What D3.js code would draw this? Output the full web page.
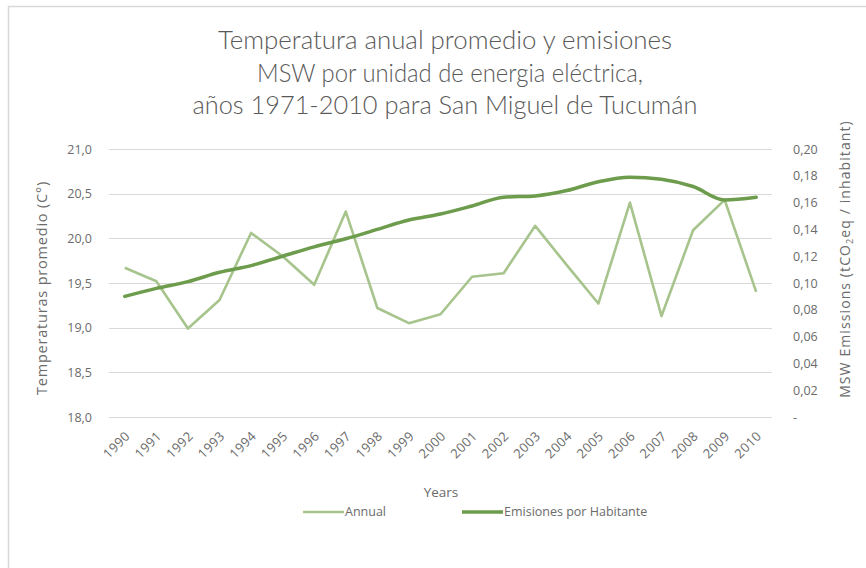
<!DOCTYPE html>
<html><head><meta charset="utf-8">
<script src="https://cdn.jsdelivr.net/npm/d3@7/dist/d3.min.js"></script>
<style>
body{margin:0;background:#fff;}
svg{display:block;}
text{font-family:"Open Sans",sans-serif;fill:#6b6b6b;}
</style></head><body>
<svg id="chart" width="866" height="568"></svg>
<script>
const years = ["1990","1991","1992","1993","1994","1995","1996","1997","1998","1999","2000","2001","2002","2003","2004","2005","2006","2007","2008","2009","2010"];
const annual = [19.67,19.52,18.99,19.31,20.06,19.80,19.48,20.30,19.22,19.05,19.15,19.57,19.61,20.14,19.70,19.27,20.40,19.13,20.09,20.43,19.40];
const emisiones = [0.090,0.096,0.101,0.108,0.113,0.120,0.127,0.133,0.140,0.147,0.1515,0.1575,0.164,0.165,0.169,0.1756,0.179,0.1774,0.172,0.162,0.164];
const leftTicks = [18.0,18.5,19.0,19.5,20.0,20.5,21.0];
const rightTicks = [0,0.02,0.04,0.06,0.08,0.10,0.12,0.14,0.16,0.18,0.20];
const titleLines = ["Temperatura anual promedio y emisiones","MSW por unidad de energia eléctrica,","años 1971-2010 para San Miguel de Tucumán"];

const svg = d3.select("#chart");
const L=109,R=772,T=149,B=417;
const x = d3.scaleBand().domain(years).range([L,R]);
const yL = d3.scaleLinear().domain([18,21]).range([B,T]);
const yR = d3.scaleLinear().domain([0,0.20]).range([B,T]);
const cx = d => x(d)+x.bandwidth()/2;

// chart border
svg.append("path").attr("d","M8.5,600 V6.5 H900").attr("fill","none").attr("stroke","#d9d9d9").attr("stroke-width",1.5);

// title
const titleW = [454,386,505];
const titleC = [445,450,445];
const tg = svg.append("g");
titleLines.forEach((t,i)=>tg.append("text").attr("x",titleC[i]).attr("y",49+i*32.5).attr("text-anchor","middle")
  .attr("textLength",titleW[i]).attr("lengthAdjust","spacingAndGlyphs")
  .style("font-family","Lato, sans-serif").style("font-weight","300").style("font-size","26px").style("fill","#595959").text(t));

// gridlines
svg.append("g").selectAll("line").data(leftTicks).join("line")
 .attr("x1",L).attr("x2",R).attr("y1",d=>Math.round(yL(d))+0.5).attr("y2",d=>Math.round(yL(d))+0.5)
 .attr("stroke","#d9d9d9").attr("stroke-width",1);

// left axis
const fmt1 = d=>d.toFixed(1).replace(".",",");
const ga = svg.append("g").attr("transform",`translate(${L},0)`)
 .call(d3.axisLeft(yL).tickValues(leftTicks).tickFormat(fmt1).tickSize(0).tickPadding(17));
ga.select(".domain").remove();
ga.selectAll("text").style("font-family","Open Sans, sans-serif").style("font-size","12.5px").style("fill","#6b6b6b");

// right axis
const fmt2 = d=> d===0 ? "-" : d.toFixed(2).replace(".",",");
const gr = svg.append("g").attr("transform",`translate(${R},0)`)
 .call(d3.axisRight(yR).tickValues(rightTicks).tickFormat(fmt2).tickSize(0).tickPadding(21));
gr.select(".domain").remove();
gr.selectAll("text").style("font-family","Open Sans, sans-serif").style("font-size","12.5px").style("fill","#6b6b6b");

// x axis
const gx = svg.append("g").attr("transform",`translate(0,${B})`)
 .call(d3.axisBottom(x).tickSize(0).tickPadding(0));
gx.select(".domain").remove();
gx.selectAll(".tick text").attr("x",0).attr("y",0).attr("dy","0").attr("text-anchor","end")
 .attr("transform","translate(6,20) rotate(-45)")
 .style("font-family","Open Sans, sans-serif").style("font-size","13px").style("letter-spacing","0.4px").style("fill","#6b6b6b");

// axis titles
svg.append("text").attr("transform","translate(47,288) rotate(-90)").attr("text-anchor","middle")
 .style("font-size","14.5px").style("letter-spacing","0.8px").text("Temperaturas promedio (C°)");
const rt = svg.append("text").attr("transform","translate(850,259) rotate(-90)").attr("text-anchor","middle")
 .style("font-size","14px").style("letter-spacing","1.1px");
rt.append("tspan").text("MSW Emissions  (tCO");
rt.append("tspan").attr("dy","3").style("font-size","9px").text("2");
rt.append("tspan").attr("dy","-3").text("eq / inhabitant)");
svg.append("text").attr("x",441).attr("y",497).attr("text-anchor","middle").style("font-size","13.5px").text("Years");

// lines
const cAnnual="#a6c48c", cEm="#6c9c4c";
svg.append("path").datum(annual).attr("fill","none").attr("stroke",cAnnual).attr("stroke-width",2.6).attr("stroke-linejoin","round")
 .attr("d",d3.line().x((d,i)=>cx(years[i])).y(d=>yL(d)));
svg.append("path").datum(emisiones).attr("fill","none").attr("stroke",cEm).attr("stroke-width",3.5).attr("stroke-linejoin","round").attr("stroke-linecap","round")
 .attr("d",d3.line().x((d,i)=>cx(years[i])).y(d=>yR(d)).curve(d3.curveMonotoneX));

// legend
const leg = [{n:"Annual",c:cAnnual,w:2.6,x:303},{n:"Emisiones por Habitante",c:cEm,w:3.5,x:462}];
const lg = svg.append("g").selectAll("g").data(leg).join("g").attr("transform",d=>`translate(${d.x},512)`);
lg.append("line").attr("x1",0).attr("x2",41).attr("stroke",d=>d.c).attr("stroke-width",d=>d.w);
lg.append("text").attr("x",42).attr("dy","0.35em").style("font-size","12.5px").text(d=>d.n);
</script></body></html>
